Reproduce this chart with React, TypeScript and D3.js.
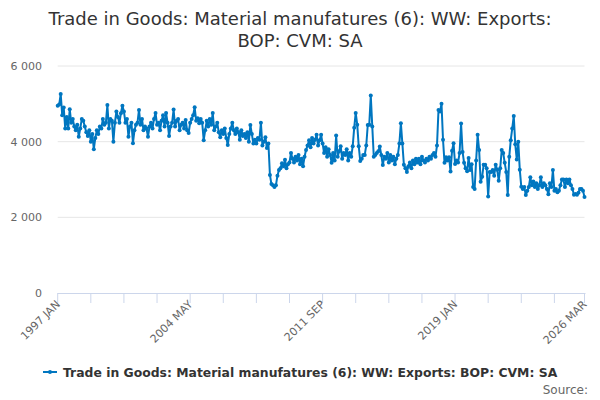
import React from 'react';
import * as d3 from 'd3';

// Monthly values, 1997 JAN .. 2026 MAR
const values1997to2003 = [
  4950, 4980, 5260, 4700, 4900, 4350, 4650, 4350, 4860, 4500, 4600, 4400,
  4300, 4450, 4130, 4350, 4600, 4550, 4400, 4250, 4150, 4300, 4000, 4200,
  3800, 4100, 4300, 4200, 4400, 4350, 4600, 4450, 4500, 4970, 4350, 4600,
  4550, 4000, 4500, 4800, 4650, 4500, 4750, 4950, 4800, 4500, 4600, 4130,
  4400, 4500, 3960, 4300, 4450, 4500, 4840, 4450, 4600, 4300, 4400, 4350,
  4130, 4400, 4500, 4350, 4600, 4760, 4450, 4500, 4300, 4550, 4700, 4400,
  4760, 4500, 4150, 4400, 4500, 4850, 4400, 4550, 4600, 4300, 4450, 4500,
];
const values2004to2010 = [
  4350, 4570, 4300, 4230, 4500, 4600, 4700, 4910, 4550, 4620, 4490, 4600,
  4500, 4040, 4300, 4550, 4400, 4600, 4450, 4760, 4300, 4400, 4500, 4250,
  4120, 4300, 4200, 4350, 4100, 3910, 4200, 4350, 4500, 4300, 4200, 4350,
  4250, 4050, 4300, 4150, 4200, 4100, 4250, 4000, 4440, 4200, 3950, 4050,
  3950, 4100, 4050, 4500, 3900, 4000, 4120, 3830, 3950, 3120, 2880, 2850,
  2800, 2850, 3100, 3250, 3300, 3430, 3350, 3520, 3300, 3400, 3450, 3700,
  3550, 3450, 3600, 3500, 3650, 3400, 3550, 3350, 3600, 3780, 3900, 4040,
];
const values2011to2017 = [
  3850, 4100, 3950, 4050, 4180, 3900, 4040, 4180, 3950, 3700, 3850, 3600,
  3800, 3650, 3440, 3700, 3500, 4160, 3600, 3750, 3880, 3550, 3700, 3650,
  3800, 3500, 3700, 3600, 3880, 4370, 4760, 4450, 3880, 3490, 3550, 3650,
  3650, 3900, 4440, 4450, 5220, 4400, 3600, 3650, 3700, 3750, 3870, 3650,
  3380, 3600, 3550, 3700, 3450, 3650, 3500, 3600, 3400, 3550, 3650, 3950,
  4490, 3950, 3390, 3300, 3200, 3350, 3450, 3300, 3500, 3400, 3550, 3450,
  3550, 3400, 3600, 3500, 3450, 3550, 3500, 3600, 3550, 3650, 3700, 3600,
];
const values2018to2026 = [
  3900, 4840, 4800, 5000, 4050, 3440, 3590, 3500, 3590, 3210, 3760, 3960,
  3410, 3500, 3450, 3700, 4480, 3730, 3440, 3300, 3220, 3570, 3250, 3400,
  2800, 2750, 3500, 4180, 3780, 2940, 3070, 3390, 3390, 3300, 2550, 3200,
  3200, 3250, 3100, 3390, 3260, 2970, 3300, 3780, 3700, 3440, 3200, 2590,
  3600, 4040, 4350, 4680, 3930, 3530, 4000, 3260, 2810, 2750, 2800, 2590,
  2700, 2800, 3060, 2850, 2950, 2800, 2900, 2750, 2850, 3060, 2800, 2900,
  2850, 2750, 2610, 2900, 2800, 3250, 2700, 2750, 2660, 2700, 2850, 3000,
  3000, 2800, 3000, 2900, 3000, 2850, 2750, 2600, 2620, 2600, 2650, 2750,
  2750, 2700, 2540,
];

const monthNames = ['JAN', 'FEB', 'MAR', 'APR', 'MAY', 'JUN', 'JUL', 'AUG', 'SEP', 'OCT', 'NOV', 'DEC'];
const startYear = 1997;
const yTicks = [0, 2000, 4000, 6000];
const labelledTicks = ['1997 JAN', '2004 MAY', '2011 SEP', '2019 JAN', '2026 MAR'];
const tickEvery = 22;

const seriesName = 'Trade in Goods: Material manufatures (6): WW: Exports: BOP: CVM: SA';
const titleLines = ['Trade in Goods: Material manufatures (6): WW: Exports:', 'BOP: CVM: SA'];

const values = [...values1997to2003, ...values2004to2010, ...values2011to2017, ...values2018to2026];
const categories = values.map((_, i) => `${startYear + Math.floor(i / 12)} ${monthNames[i % 12]}`);

const color = '#0076c0';
const font = '"DejaVu Sans", Verdana, sans-serif';

const App: React.FC = () => {
  const width = 600;
  const height = 400;
  const margin = { top: 66, right: 15.5, bottom: 107, left: 57.7 };

  const x = d3.scaleLinear()
    .domain([0, values.length - 1])
    .range([margin.left, width - margin.right]);

  const y = d3.scaleLinear()
    .domain([0, 6000])
    .range([height - margin.bottom, margin.top]);

  const line = d3.line<number>()
    .x((_, i) => x(i))
    .y(d => y(d));

  // tick every 22 months, plus the last month
  const tickIdx = d3.range(0, values.length, tickEvery);
  if (tickIdx[tickIdx.length - 1] !== values.length - 1) tickIdx.push(values.length - 1);

  const fmt = (v: number) => d3.format(',')(v).replace(/,/g, ' ');
  const y0 = y(0);

  return (
    <svg width={width} height={height} style={{ position: 'absolute', left: 0, top: 0, fontFamily: font }}>
      <rect width={width} height={height} fill="#fff" />

      {/* title */}
      {titleLines.map((t, i) => (
        <text key={t} x={300} y={25 + i * 22} textAnchor="middle" fontSize={18} fill="#333">{t}</text>
      ))}

      {/* grid + y labels */}
      {yTicks.map(t => (
        <g key={t}>
          {t > 0 && <line x1={margin.left} x2={width - margin.right} y1={y(t)} y2={y(t)} stroke="#e6e6e6" />}
          <text x={42} y={y(t) + 4} textAnchor="end" fontSize={11} fill="#666">{fmt(t)}</text>
        </g>
      ))}

      {/* x axis */}
      <line x1={margin.left} x2={width - margin.right + 1} y1={y0 + 0.5} y2={y0 + 0.5} stroke="#ccd6eb" />
      {tickIdx.map(i => (
        <line key={i} x1={x(i)} x2={x(i)} y1={y0} y2={y0 + 10} stroke="#ccd6eb" />
      ))}
      {tickIdx.filter(i => labelledTicks.includes(categories[i])).map(i => (
        <text key={i} transform={`translate(${x(i) + 3},${y0 + 12}) rotate(-45)`} textAnchor="end"
          fontSize={11} fill="#666">{categories[i]}</text>
      ))}

      {/* series */}
      <path d={line(values) ?? ''} fill="none" stroke={color} strokeWidth={2} strokeLinejoin="round" />
      {values.map((v, i) => (
        <circle key={i} cx={x(i)} cy={y(v)} r={2} fill={color} />
      ))}

      {/* legend */}
      <g transform="translate(43,372)">
        <line x1={0} x2={14} y1={0} y2={0} stroke={color} strokeWidth={2} />
        <circle cx={7} cy={0} r={2} fill={color} />
        <text x={20} y={4.5} fontSize={12.4} fontWeight="bold" fill="#333">{seriesName}</text>
      </g>

      <text x={588} y={394} textAnchor="end" fontSize={12} fill="#666">Source:</text>
    </svg>
  );
};

export default App;
